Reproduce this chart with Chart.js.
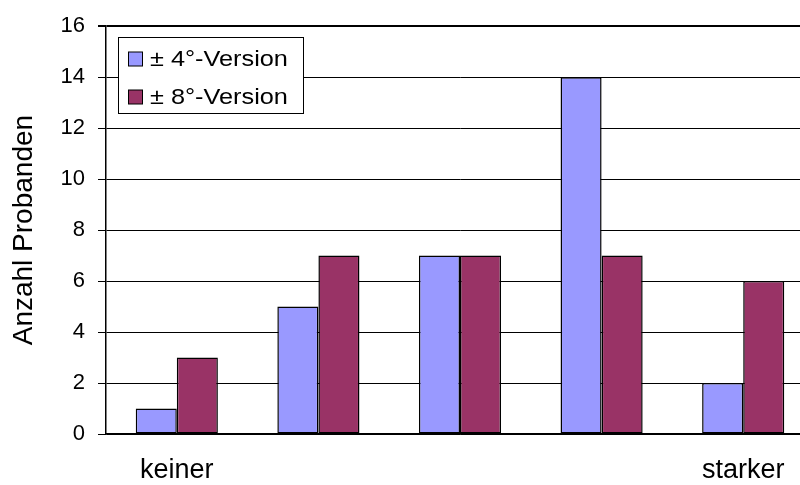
<!DOCTYPE html>
<html>
<head>
<meta charset="utf-8">
<script src="https://cdn.jsdelivr.net/npm/chart.js@4/dist/chart.umd.min.js"></script>
<style>
  html, body { margin: 0; padding: 0; overflow: hidden; background: #fff; }
  #wrap { width: 816px; height: 485px; }
</style>
</head>
<body>
<div id="wrap"><canvas id="c" width="816" height="485"></canvas></div>
<script>
// Kategorien (Stärke) und Anzahl Probanden je Version
const categories = ['keiner', '', '', '', 'starker'];
const version4 = [1, 5, 7, 14, 2];
const version8 = [3, 7, 7, 7, 6];
const seriesLabels = ['± 4°-Version', '± 8°-Version'];
const yTicks = [0, 2, 4, 6, 8, 10, 12, 14, 16];

const FONT = '"Liberation Sans", Arial, Helvetica, sans-serif';
const BLUE = '#9999FF';
const PLUM = '#993366';

// Legende als Kasten oben links im Diagrammbereich
const boxLegend = {
  id: 'boxLegend',
  afterDraw(chart) {
    const ctx = chart.ctx;
    const x = 118.5, y = 37.5, w = 185, h = 76;
    ctx.save();
    ctx.fillStyle = '#fff';
    ctx.fillRect(x, y, w, h);
    ctx.strokeStyle = '#000';
    ctx.lineWidth = 1;
    ctx.strokeRect(x, y, w, h);
    chart.data.datasets.forEach((ds, i) => {
      const cy = 59 + i * 38;
      ctx.fillStyle = ds.backgroundColor;
      ctx.fillRect(128.5, cy - 7, 14, 14);
      ctx.strokeRect(128.5, cy - 7, 14, 14);
      // etwas breiter laufende Schrift
      ctx.save();
      ctx.translate(150, cy + 1);
      ctx.scale(1.15, 1);
      ctx.fillStyle = '#000';
      ctx.font = '22px ' + FONT;
      ctx.textBaseline = 'middle';
      ctx.textAlign = 'left';
      ctx.fillText(ds.label, 0, 0);
      ctx.restore();
    });
    ctx.restore();
  }
};

new Chart(document.getElementById('c'), {
  type: 'bar',
  data: {
    labels: categories,
    datasets: [
      { label: seriesLabels[0], data: version4, backgroundColor: BLUE },
      { label: seriesLabels[1], data: version8, backgroundColor: PLUM }
    ]
  },
  options: {
    responsive: false,
    animation: false,
    devicePixelRatio: 1,
    layout: { padding: { top: 24, right: 2, bottom: 0, left: 0 } },
    datasets: {
      bar: {
        borderColor: '#000',
        borderWidth: 1.5,
        borderSkipped: false,
        categoryPercentage: 0.58,
        barPercentage: 1.0
      }
    },
    plugins: {
      legend: { display: false },
      tooltip: { enabled: false }
    },
    scales: {
      x: {
        offset: true,
        afterFit(scale) { scale.height = 51; },
        grid: { display: true, drawOnChartArea: false, drawTicks: false },
        border: { display: true, color: '#000', width: 1.5 },
        ticks: {
          color: '#000',
          font: { family: FONT, size: 27 },
          padding: 20,
          maxRotation: 0,
          autoSkip: false
        }
      },
      y: {
        min: 0,
        max: 16,
        afterFit(scale) { scale.width = 106; },
        afterBuildTicks(scale) { scale.ticks = yTicks.map(v => ({ value: v })); },
        grid: {
          color: '#000',
          lineWidth: c => (c.tick && c.tick.value === 16 ? 2 : 1),
          tickLength: 8
        },
        border: { display: true, color: '#000', width: 1.5 },
        ticks: {
          color: '#000',
          font: { family: FONT, size: 22 },
          padding: 13
        },
        title: {
          display: true,
          text: 'Anzahl Probanden',
          color: '#000',
          font: { family: FONT, size: 28, weight: 'normal' },
          padding: { top: 7, bottom: 0 }
        }
      }
    }
  },
  plugins: [boxLegend]
});
</script>
</body>
</html>
